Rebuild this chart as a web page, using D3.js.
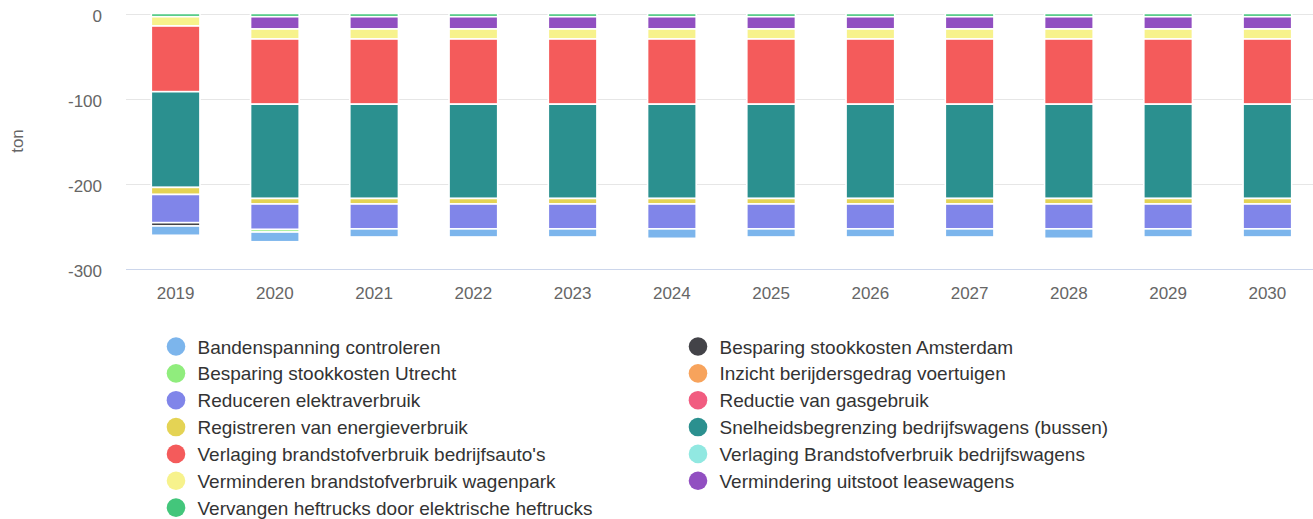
<!DOCTYPE html>
<html>
<head>
<meta charset="utf-8">
<script src="https://cdn.jsdelivr.net/npm/d3@7"></script>
<style>
  body { margin: 0; background: #fff; }
  svg text { font-family: "Liberation Sans", Arial, sans-serif; }
</style>
</head>
<body>
<svg width="1313" height="519"></svg>
<script>
  const years = ['2019', '2020', '2021', '2022', '2023', '2024', '2025', '2026', '2027', '2028', '2029', '2030'];

  const seriesNames = [
    'Bandenspanning controleren',
    'Besparing stookkosten Amsterdam',
    'Besparing stookkosten Utrecht',
    'Inzicht berijdersgedrag voertuigen',
    'Reduceren elektraverbruik',
    'Reductie van gasgebruik',
    'Registreren van energieverbruik',
    'Snelheidsbegrenzing bedrijfswagens (bussen)',
    "Verlaging brandstofverbruik bedrijfsauto's",
    'Verlaging Brandstofverbruik bedrijfswagens',
    'Verminderen brandstofverbruik wagenpark',
    'Vermindering uitstoot leasewagens',
    'Vervangen heftrucks door elektrische heftrucks'
  ];

  const seriesColors = ['#7cb5ec', '#434348', '#90ed7d', '#f7a35c', '#8085e9', '#f15c80',
    '#e4d354', '#2b908f', '#f45b5b', '#91e8e1', '#f7f28c', '#914fc1', '#43c67b'];

  // savings in ton per year (negative = reduction)
  const bandenspanning = [-10.9, -11.4, -9.5, -9.5, -9.5, -11.1, -9.5, -9.5, -9.5, -11.1, -9.5, -9.5];
  const stookAmsterdam = [-3.9, 0, 0, 0, 0, 0, 0, 0, 0, 0, 0, 0];
  const stookUtrecht = [0, -3.0, 0, 0, 0, 0, 0, 0, 0, 0, 0, 0];
  const berijdersgedrag = [0, 0, 0, 0, 0, 0, 0, 0, 0, 0, 0, 0];
  const elektraverbruik = [-33.2, -30, -29.3, -29.3, -29.3, -29.3, -29.3, -29.3, -29.3, -29.3, -29.3, -29.3];
  const gasgebruik = [0, 0, 0, 0, 0, 0, 0, 0, 0, 0, 0, 0];
  const energieRegistratie = [-8.3, -6.5, -6.5, -6.5, -6.5, -6.5, -6.5, -6.5, -6.5, -6.5, -6.5, -6.5];
  const snelheidsbegrenzing = [-112.6, -110.9, -110.9, -110.9, -110.9, -110.9, -110.9, -110.9, -110.9, -110.9, -110.9, -110.9];
  const bedrijfsautos = [-77.3, -76.7, -76.7, -76.7, -76.7, -76.7, -76.7, -76.7, -76.7, -76.7, -76.7, -76.7];
  const bedrijfswagens = [0, 0, 0, 0, 0, 0, 0, 0, 0, 0, 0, 0];
  const wagenpark = [-10.9, -11.8, -11.8, -11.8, -11.8, -11.8, -11.8, -11.8, -11.8, -11.8, -11.8, -11.8];
  const leasewagens = [0, -14.4, -14.4, -14.4, -14.4, -14.4, -14.4, -14.4, -14.4, -14.4, -14.4, -14.4];
  const heftrucks = [-3.8, -3.8, -3.8, -3.8, -3.8, -3.8, -3.8, -3.8, -3.8, -3.8, -3.8, -3.8];

  const seriesValues = [bandenspanning, stookAmsterdam, stookUtrecht, berijdersgedrag,
    elektraverbruik, gasgebruik, energieRegistratie, snelheidsbegrenzing, bedrijfsautos,
    bedrijfswagens, wagenpark, leasewagens, heftrucks];

  const yTicks = [0, -100, -200, -300];

  const svg = d3.select('svg');

  const x = d3.scaleBand()
    .domain(years)
    .range([126, 1317])
    .paddingInner(0)
    .paddingOuter(0);

  const y = d3.scaleLinear()
    .domain([-300, 0])
    .range([268.5, 13.5]);

  const color = d3.scaleOrdinal().domain(seriesNames).range(seriesColors);

  // rows for d3.stack
  const rows = years.map((yr, i) => {
    const row = { year: yr };
    seriesNames.forEach((n, s) => { row[n] = seriesValues[s][i]; });
    return row;
  });

  // last series sits closest to zero
  const stackKeys = seriesNames.slice().reverse();
  const stacked = d3.stack()
    .keys(stackKeys)
    .offset(d3.stackOffsetDiverging)(rows);

  // gridlines
  svg.append('g')
    .selectAll('line')
    .data(yTicks.filter(d => d !== -300))
    .enter().append('line')
      .attr('x1', 126)
      .attr('x2', 1317)
      .attr('y1', d => Math.round(y(d)) + 0.5)
      .attr('y2', d => Math.round(y(d)) + 0.5)
      .attr('stroke', '#e6e6e6')
      .attr('stroke-width', 1);

  // y labels
  svg.append('g')
    .selectAll('text')
    .data(yTicks)
    .enter().append('text')
      .attr('x', 102)
      .attr('y', d => y(d) + 8)
      .attr('text-anchor', 'end')
      .attr('font-size', '17px')
      .attr('fill', '#666666')
      .text(d => d);

  svg.append('text')
    .attr('transform', 'translate(23,141) rotate(-90)')
    .attr('text-anchor', 'middle')
    .attr('font-size', '17px')
    .attr('fill', '#666666')
    .text('ton');

  // bars
  const barW = x.bandwidth() * 0.49;
  svg.append('g')
    .selectAll('g')
    .data(stacked)
    .enter().append('g')
      .attr('fill', d => color(d.key))
    .selectAll('rect')
    .data(d => d.filter(p => p[1] - p[0] !== 0))
    .enter().append('rect')
      .attr('x', d => x(d.data.year) + (x.bandwidth() - barW) / 2)
      .attr('y', d => y(d[1]))
      .attr('width', barW)
      .attr('height', d => y(d[0]) - y(d[1]))
      .attr('stroke', '#ffffff')
      .attr('stroke-width', 1.6);

  // x axis line
  svg.append('line')
    .attr('x1', 126)
    .attr('x2', 1317)
    .attr('y1', Math.round(y(-300)) + 0.5)
    .attr('y2', Math.round(y(-300)) + 0.5)
    .attr('stroke', '#ccd6eb')
    .attr('stroke-width', 1);

  // x labels
  svg.append('g')
    .selectAll('text')
    .data(years)
    .enter().append('text')
      .attr('x', d => x(d) + x.bandwidth() / 2)
      .attr('y', 299)
      .attr('text-anchor', 'middle')
      .attr('font-size', '17px')
      .attr('fill', '#666666')
      .text(d => d);

  // legend, two columns filled row by row
  const legend = svg.append('g');
  const items = legend.selectAll('g')
    .data(seriesNames)
    .enter().append('g')
      .attr('transform', (d, i) =>
        `translate(${i % 2 === 0 ? 176 : 698}, ${346.5 + Math.floor(i / 2) * 26.85})`
      );
  items.append('circle')
    .attr('r', 9.3)
    .attr('fill', d => color(d));
  items.append('text')
    .attr('x', 21.5)
    .attr('y', 7)
    .attr('font-size', '19px')
    .attr('fill', '#333333')
    .text(d => d);
</script>
</body>
</html>
